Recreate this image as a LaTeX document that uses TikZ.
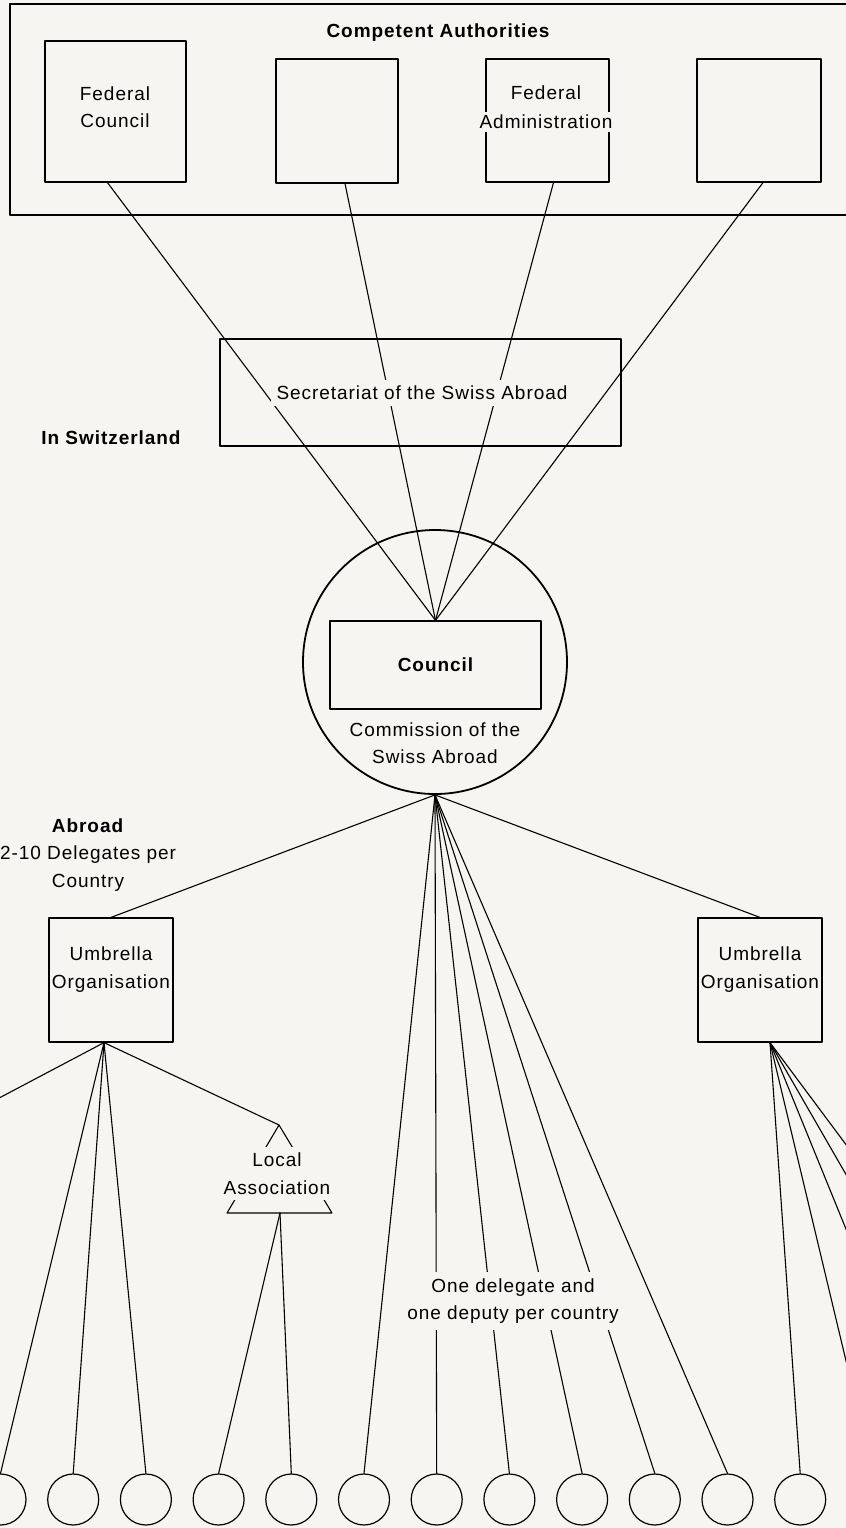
\documentclass[tikz,border=0pt]{standalone}
\usepackage{fontspec}
\setmainfont{Liberation Sans}[LetterSpace=5]
\newcommand{\diafont}{\fontsize{9.5}{13.75}\selectfont}
\definecolor{paper}{RGB}{246,245,241}

\begin{document}
\begin{tikzpicture}[x=0.5pt,y=-0.5pt,line cap=round,line join=round,font=\diafont,
    box/.style={draw,line width=0.6pt,inner sep=0pt},
    ring/.style={circle,draw,line width=0.6pt,minimum size=25.5pt,inner sep=0pt},
    link/.style={line width=0.55pt},
    txt/.style={align=center,inner sep=1pt},
    mask/.style={txt,fill=paper,inner sep=3pt}]
        \useasboundingbox (0,0) rectangle (846,1528);
        \clip (0,0) rectangle (846,1528);
        \fill[paper] (0,0) rectangle (846,1528);
        % competent authorities
        \draw[line width=0.7pt] (10,4) rectangle (880,215);
        \node[box,minimum width=70.5pt,minimum height=70.5pt] (fedcouncil) at (115.5,111.5) {};
        \node[box,minimum width=61pt,minimum height=62pt] (authb) at (337,121) {};
        \node[box,minimum width=61.5pt,minimum height=61.5pt] (fedadmin) at (547.5,120.5) {};
        \node[box,minimum width=62pt,minimum height=61.5pt] (authd) at (759,120.5) {};
        % in switzerland
        \node[box,minimum width=200.5pt,minimum height=53.5pt] (secretariat) at (420.5,392.5) {};
        \node[circle,draw,line width=0.9pt,minimum size=132pt,inner sep=0pt] (commission) at (435,662) {};
        \node[box,minimum width=105.5pt,minimum height=44pt,font=\diafont\bfseries] (council) at (435.5,665) {Council};
        % abroad
        \node[box,minimum width=62pt,minimum height=62pt] (umbrellaL) at (111,980) {};
        \node[box,minimum width=62pt,minimum height=62pt] (umbrellaR) at (760,980) {};
        \foreach \i in {0,...,15}
        \node[ring] (c\i) at ({0.5+72.7*\i},1499.5) {};
        \coordinate (localL) at (-52,1125);
        \coordinate (localM) at (279,1125);
        \coordinate (localMfoot) at (280,1213);
        \draw[link] (localM) -- ++(-52,88) -- ++(105,0) -- cycle;
        \coordinate (footL) at ([xshift=-3.5pt]umbrellaL.south);
        \coordinate (footR) at ([xshift=5pt]umbrellaR.south);
        % connectors
        \draw[link] ([xshift=-4pt]fedcouncil.south) -- (council.north);
        \draw[link] ([xshift=4pt]authb.south) -- (council.north);
        \draw[link] ([xshift=3pt]fedadmin.south) -- (council.north);
        \draw[link] ([xshift=2pt]authd.south) -- (council.north);
        \foreach \t in {umbrellaL,umbrellaR,c5,c6,c7,c8,c9,c10}
        \draw[link] (commission.south) -- (\t.north);
        \foreach \t in {localL,c0.north,c1.north,c2.north,localM}
        \draw[link] (footL) -- (\t);
        \foreach \i in {3,4}
        \draw[link] (localMfoot) -- (c\i.north);
        \foreach \i in {11,...,15}
        \draw[link] (footR) -- (c\i.north);
        % labels
        \node[txt,font=\diafont\bfseries] (authtitle) at (438,33) {Competent Authorities};
        \node[txt] (fctext) at (115,107) {Federal\\Council};
        \node[txt] (fatext) at (546,93) {Federal};
        \node[mask,inner sep=1.5pt] (fatext2) at (546,122) {Administration};
        \node[mask] (sectext) at (422,393) {Secretariat of the Swiss Abroad};
        \node[txt,font=\diafont\bfseries] (inswiss) at (111,438) {In Switzerland};
        \node[txt] (commtext) at (435,743) {Commission of the\\Swiss Abroad};
        \node[txt] (abroad) at (88,855) {\textbf{Abroad}\\2-10 Delegates per\\Country};
        \node[txt] (umbLtext) at (111,969.5) {Umbrella\\Organisation};
        \node[txt] (umbRtext) at (760,969.5) {Umbrella\\Organisation};
        \node[mask] (localMtext) at (277,1173.5) {Local\\Association};
        \node[mask] (deltext) at (513,1301) {One delegate and\\one deputy per country};
      \end{tikzpicture}
\end{document}
